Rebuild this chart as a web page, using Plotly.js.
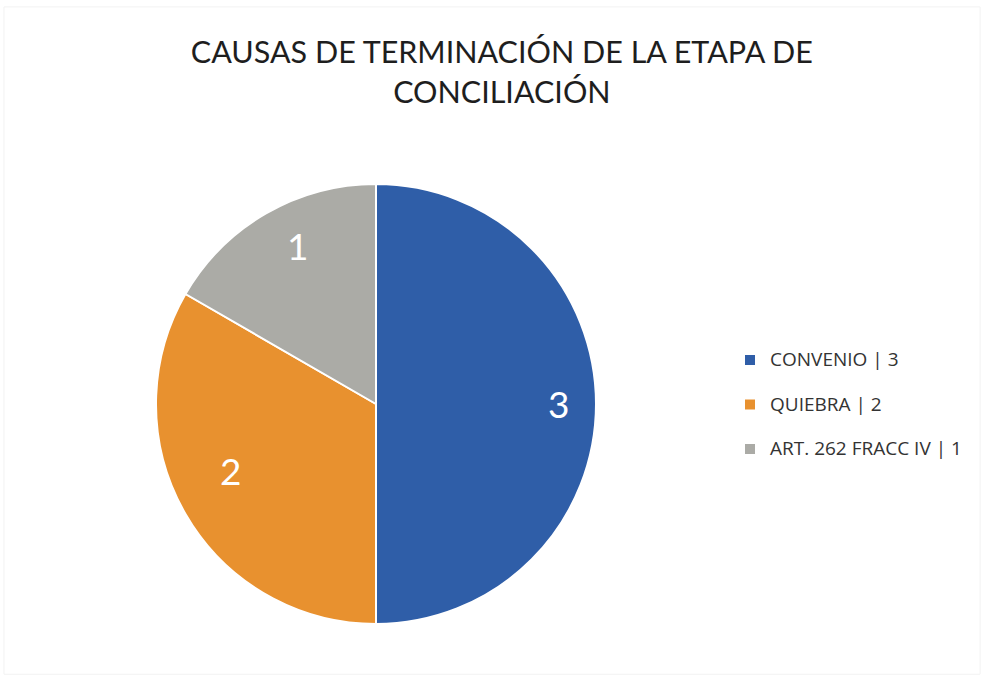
<!DOCTYPE html>
<html>
<head>
<meta charset="utf-8">
<script src="https://cdn.plot.ly/plotly-3.0.1.min.js"></script>
<style>html,body{margin:0;padding:0;background:#fff;}#chart{width:986px;height:688px;}</style>
</head>
<body>
<div id="chart"></div>
<script>
const categories = ["CONVENIO", "QUIEBRA", "ART. 262 FRACC IV"];
const values = [3, 2, 1];
const colors = ["#2F5EA8", "#E8912F", "#ABABA6"];
const titleText = "CAUSAS DE TERMINACIÓN DE LA ETAPA DE<br>CONCILIACIÓN";

const W = 986, H = 688;
const dom = {x: [156 / W, 596 / W], y: [1 - 624 / H, 1 - 184 / H]};

const legendLabels = categories.map((c, i) =>
  '<span style="font-size:19px">' + c + " | " + values[i] + "</span><br>&nbsp;");

// data labels placed at slice mid-angles computed from the values
const total = values.reduce((a, b) => a + b, 0);
const cx = (dom.x[0] + dom.x[1]) / 2, cy = (dom.y[0] + dom.y[1]) / 2;
const rx = (dom.x[1] - dom.x[0]) / 2, ry = (dom.y[1] - dom.y[0]) / 2;
let cum = 0;
const annotations = values.map((v) => {
  const mid = (cum + v / 2) / total * 2 * Math.PI; cum += v;
  const f = 0.83;
  return {
    x: cx + f * rx * Math.sin(mid), y: cy + f * ry * Math.cos(mid),
    xref: "paper", yref: "paper", text: String(v), showarrow: false,
    font: {family: "Lato, 'Open Sans', sans-serif", size: 37, color: "#ffffff"}
  };
});

const trace = {
  type: "pie",
  labels: legendLabels,
  values: values,
  sort: false,
  direction: "clockwise",
  rotation: 0,
  domain: dom,
  textinfo: "none",
  hoverinfo: "label+value",
  marker: {colors: colors, line: {color: "#ffffff", width: 2}}
};

const layout = {
  width: W, height: H,
  margin: {l: 0, r: 0, t: 0, b: 0},
  paper_bgcolor: "#ffffff",
  title: {
    text: titleText,
    x: 0.509, xanchor: "center",
    y: 1 - 63 / H, yanchor: "top",
    font: {family: "Lato, 'Open Sans', sans-serif", size: 30.5, color: "#1e1e1e"}
  },
  showlegend: true,
  legend: {
    x: 730 / W, xanchor: "left",
    y: 1 - 343 / H, yanchor: "top",
    valign: "top",
    itemwidth: 30,
    font: {family: "'Open Sans', sans-serif", size: 16, color: "#333333"},
    bgcolor: "rgba(0,0,0,0)"
  },
  annotations: annotations,
  shapes: [{type: "rect", xref: "paper", yref: "paper", x0: 0.004, x1: 0.994, y0: 0.02, y1: 0.99,
            line: {color: "#f2f2f2", width: 1}}]
};

Plotly.newPlot("chart", [trace], layout, {displayModeBar: false, staticPlot: true});
</script>
</body>
</html>
